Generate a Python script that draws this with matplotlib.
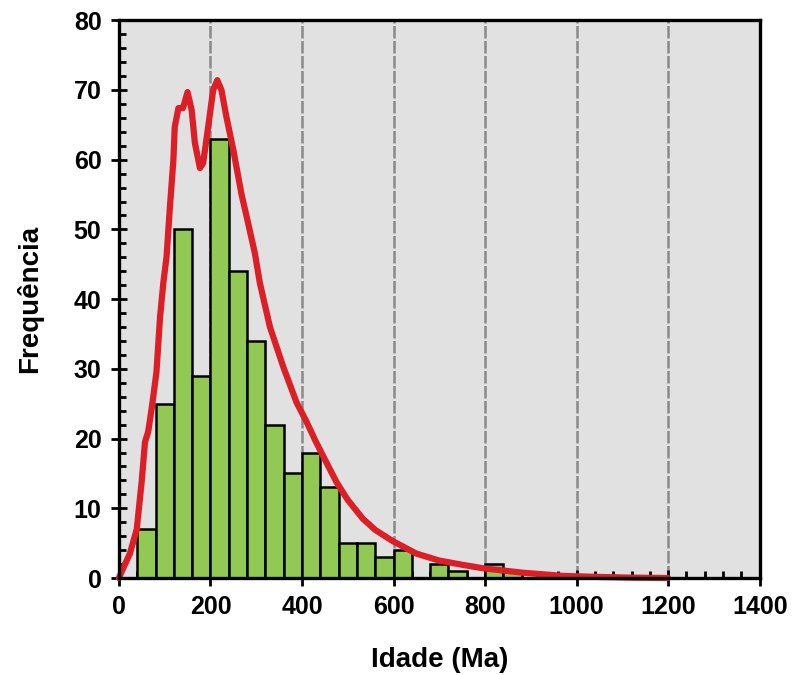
import numpy as np
import matplotlib.pyplot as plt
from matplotlib.ticker import MultipleLocator

# ============================================================
# DADOS
# ============================================================
# histograma: classes de 40 Ma (borda esquerda) e frequências
classes_ini = [40, 80, 120, 160, 200, 240, 280, 320, 360, 400, 440, 480,
               520, 560, 600, 640, 680, 720, 760, 800, 840]
frequencias = [7, 25, 50, 29, 63, 44, 34, 22, 15, 18, 13, 5,
               5, 3, 4, 0, 2, 1, 0, 2, 1]
largura_classe = 40

# curva de densidade de probabilidade (escalada)
curva_idade = [0, 10, 24, 39, 50, 57, 64, 72, 82, 90, 97, 104, 111, 119,
               122, 130, 140, 150, 159, 166, 177, 184, 195, 206, 215, 224,
               235, 250, 268, 282, 297, 308, 330, 359, 388, 410, 430, 450,
               475, 500, 533, 560, 598, 650, 700, 750, 795, 882, 970, 1050,
               1120, 1200]
curva_freq = [0, 1.5, 3.5, 7, 14, 19.5, 21, 24.5, 29.5, 37.5, 42.3, 46,
              52.8, 59.9, 64.7, 67.4, 67.4, 69.7, 67.1, 62.4, 58.8, 59.5,
              64.7, 70, 71.4, 70, 66.1, 61.4, 55, 51, 46.6, 42.3, 36, 30.3,
              25.2, 22.4, 19.6, 17.0, 13.8, 11.2, 8.5, 6.9, 5.3, 3.5, 2.5,
              1.9, 1.4, 0.76, 0.3, 0.15, 0.05, 0]

# ============================================================
# FIGURA
# ============================================================
plt.rcParams['font.family'] = ['Liberation Sans', 'DejaVu Sans']

fig = plt.figure(figsize=(7.98, 6.75), dpi=100)
ax = fig.add_axes([0.149, 0.1437, 0.803, 0.8263])
ax.set_facecolor('#e1e1e1')

ax.bar(classes_ini, frequencias, width=largura_classe, align='edge',
       color='#92c955', edgecolor='black', linewidth=1.8, zorder=2)
ax.plot(curva_idade, curva_freq, color='#dc1f26', linewidth=4.5,
        solid_capstyle='round', solid_joinstyle='round', zorder=3,
        clip_on=False)

ax.set_xlim(0, 1400)
ax.set_ylim(0, 80)
ax.xaxis.set_major_locator(MultipleLocator(200))
ax.xaxis.set_minor_locator(MultipleLocator(40))
ax.yaxis.set_major_locator(MultipleLocator(10))
ax.yaxis.set_minor_locator(MultipleLocator(2))

ax.grid(True, axis='x', which='major', color='#8a8a8a', linewidth=1.8,
        linestyle=(0, (5, 1)), zorder=1)
ax.set_axisbelow(True)

for s in ax.spines.values():
    s.set_linewidth(2.4)
    s.set_color('black')
    s.set_zorder(4)

ax.tick_params(which='major', direction='inout', length=11, width=2,
               labelsize=18, pad=7, top=False, right=False)
ax.tick_params(which='minor', direction='in', length=5, width=2,
               top=False, right=False)
for lab in ax.get_xticklabels() + ax.get_yticklabels():
    lab.set_fontweight('bold')

ax.set_xlabel('Idade (Ma)', fontsize=20, fontweight='bold', labelpad=20)
ax.set_ylabel('Frequência', fontsize=20, fontweight='bold', labelpad=22)

fig.savefig('out.png', dpi=100)
